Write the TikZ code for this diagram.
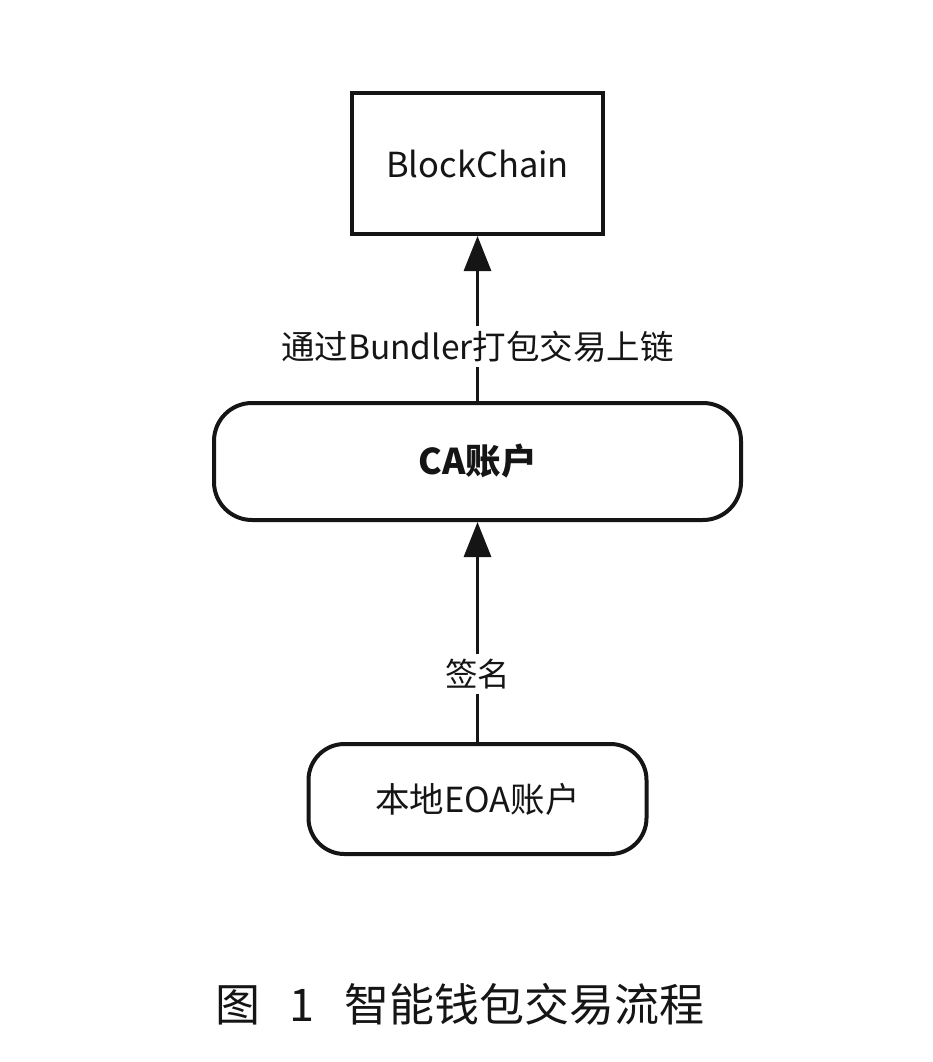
\documentclass[tikz,border=0pt]{standalone}
\usepackage{fontspec}
\setmainfont{Noto Sans CJK SC}
\newfontfamily\cjk{Noto Sans CJK SC}
\usetikzlibrary{arrows.meta,positioning}
\definecolor{ink}{HTML}{151515}
\tikzset{
  box/.style={draw=ink, line width=4pt, fill=white, text=ink, inner sep=0pt, font=\cjk\fontsize{34.5}{40}\selectfont},
  sqbox/.style={box, rectangle, minimum width=251pt, minimum height=141pt},
  rbox/.style={box, rectangle, rounded corners=38pt},
  arr/.style={draw=ink, line width=3.2pt, -{Triangle[length=35pt,width=27pt]}},
  lbl/.style={fill=white, text=ink, inner sep=5pt, font=\cjk\fontsize{33.5}{38}\selectfont},
}
\begin{document}
\begin{tikzpicture}[x=1pt,y=-1pt]
\useasboundingbox[fill=white] (0,0) rectangle (932,1062);
\node[sqbox] (bc) at (477.5,163.5) {BlockChain};
\node[rbox, minimum width=527pt, minimum height=117pt, font=\cjk\fontsize{35.5}{40}\selectfont] (ca) at (477.5,461.5) {\bfseries CA账户};
\node[rbox, minimum width=338pt, minimum height=110pt, rounded corners=36pt] (eoa) at (477.5,799) {本地EOA账户};
\draw[arr] (ca.north) -- node[lbl, pos=0.33] (l1) {通过Bundler打包交易上链} (bc.south);
\draw[arr] (eoa.north) -- node[lbl, pos=0.31, font=\cjk\fontsize{32.5}{38}\selectfont] (l2) {签名} (ca.south);
\node[text=ink, font=\cjk\fontsize{45}{50}\selectfont, anchor=center] (cap) at (460,1004) {图\hspace{30pt}1\hspace{30pt}智能钱包交易流程};
\end{tikzpicture}
\end{document}
